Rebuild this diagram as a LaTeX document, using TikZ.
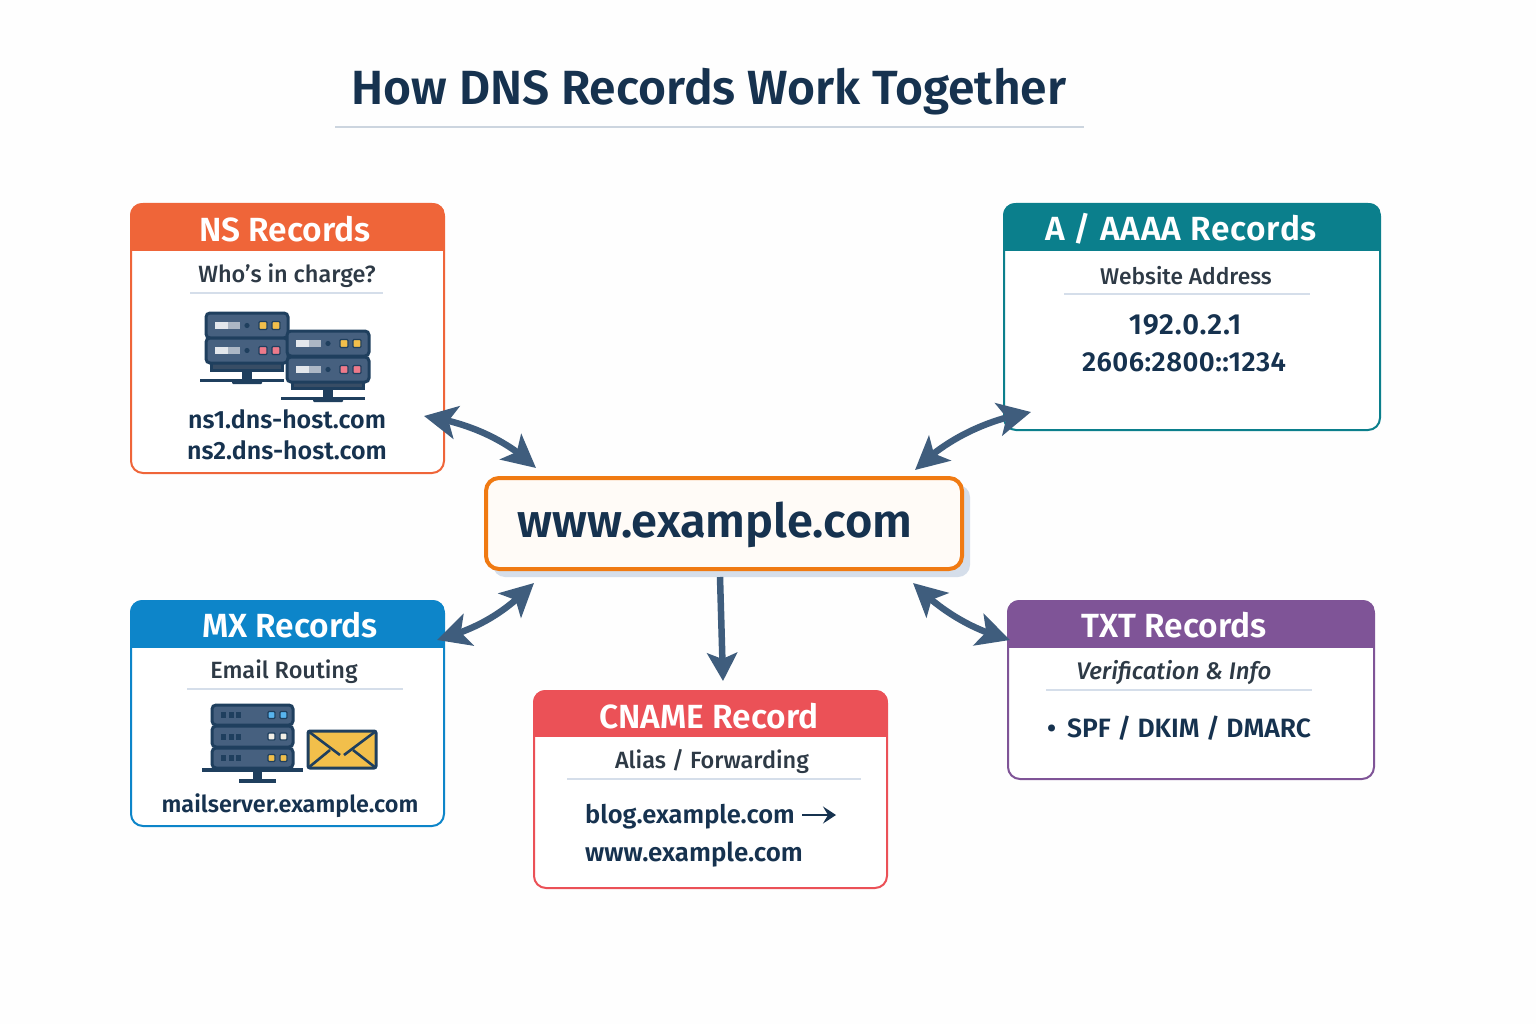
\documentclass[tikz,border=0pt]{standalone}
\usepackage{fontspec}
\setmainfont{Fira Sans}
\newfontfamily\medf{Fira Sans Medium}
\newfontfamily\semif{Fira Sans SemiBold}
\newfontfamily\medit{Fira Sans Medium Italic}
\usetikzlibrary{arrows.meta,bending}
\definecolor{ink}{HTML}{16324F}
\definecolor{gray1}{HTML}{2E3A46}
\definecolor{rulec}{HTML}{D5DEEA}
\definecolor{arrowc}{HTML}{3F5D7D}
\definecolor{srvfill}{HTML}{46607F}
\definecolor{srvdark}{HTML}{1F3F5E}
\definecolor{nsc}{HTML}{EF6539}
\definecolor{ac}{HTML}{0B7F8C}
\definecolor{mxc}{HTML}{0D85C9}
\definecolor{cnc}{HTML}{EB5157}
\definecolor{txc}{HTML}{7F5497}
\definecolor{orangec}{HTML}{F07A12}
\definecolor{ledy}{HTML}{F2BF4B}
\definecolor{ledr}{HTML}{EE7A8A}
\definecolor{ledb}{HTML}{58B4EE}
\definecolor{ledw}{HTML}{F3EFE6}
\tikzset{
  cardbox/.style={draw=#1,line width=2pt,rounded corners=12pt,fill=white,inner sep=0pt,outer sep=0pt,anchor=north west},
  headtext/.style={text=white,font=\semif\fontsize{33.5}{36}\selectfont,inner sep=0pt},
  subtext/.style={text=gray1,font=\medf\fontsize{23.5}{26}\selectfont,inner sep=0pt},
  bodytext/.style={text=ink,font=\semif\fontsize{25}{28}\selectfont,inner sep=0pt},
  subrule/.style={draw=rulec,line width=1.6pt},
  link/.style={draw=arrowc,line width=6.5pt},
  twoway/.style={link,{Stealth[length=33pt,width=33pt,inset=8pt,flex]}-{Stealth[length=33pt,width=33pt,inset=8pt,flex]}},
  oneway/.style={link,-{Stealth[length=28pt,width=30pt,inset=6pt]}},
  srvbox/.style={draw=srvdark,line width=3pt,fill=srvfill,rounded corners=4pt},
}
\newcommand{\cardshape}[8]{% name x0 y0 x1 y1 ybar color title-x
  \pgfmathsetmacro{\cw}{#4-#2}\pgfmathsetmacro{\ch}{#5-#3}
  \node[cardbox=#7,minimum width=\cw pt,minimum height=\ch pt] (#1) at (#2,#3) {};
  \begin{scope}
    \clip[rounded corners=12pt] (#2-1,#3-1) rectangle (#4+1,#5+1);
    \fill[#7] (#2-1,#3-1) rectangle (#4+1,#6);
  \end{scope}
}
% rack unit: x y w h led1 led2
\newcommand{\rackunit}[6]{%
  \path[srvbox] (#1,#2) rectangle ++(#3,#4);
  \fill[white!85!srvfill] (#1+9,#2+#4/2-4) rectangle ++(13,7);
  \fill[white!55!srvfill] (#1+22,#2+#4/2-4) rectangle ++(12,7);
  \fill[srvdark] (#1+41,#2+#4/2) circle (2.6pt);
  \path[draw=srvdark,line width=1.2pt,fill=#5,rounded corners=1pt] (#1+#3-29,#2+#4/2-4) rectangle ++(8,8);
  \path[draw=srvdark,line width=1.2pt,fill=#6,rounded corners=1pt] (#1+#3-16,#2+#4/2-4) rectangle ++(8,8);
}
% small rack unit for mail server: x y w h led1 led2
\newcommand{\mailunit}[6]{%
  \path[srvbox] (#1,#2) rectangle ++(#3,#4);
  \foreach \k in {0,1,2} {\fill[srvdark] (#1+9+\k*7.5,#2+#4/2-3) rectangle ++(5,6);}
  \path[draw=srvdark,line width=1.2pt,fill=#5,rounded corners=1pt] (#1+#3-25,#2+#4/2-3.5) rectangle ++(7,7);
  \path[draw=srvdark,line width=1.2pt,fill=#6,rounded corners=1pt] (#1+#3-13,#2+#4/2-3.5) rectangle ++(7,7);
}
% double server with stand: x y
\newcommand{\nsserver}[2]{%
  \fill[srvdark] (#1+4,#2+44) rectangle ++(74,16);
  \fill[srvfill!80!black] (#1+7,#2+50) rectangle ++(68,7);
  \fill[srvdark] (#1+36,#2+58) rectangle ++(10,10);
  \draw[srvdark,line width=3pt] (#1-6,#2+68) -- ++(84,0);
  \fill[srvdark,rounded corners=1pt] (#1+26,#2+68) rectangle ++(30,4);
}
\begin{document}
\begin{tikzpicture}[x=1pt,y=-1pt]
\useasboundingbox (0,0) rectangle (1536,1024);
\fill[white!99!gray] (0,0) rectangle (1536,1024);
% title
\node[text=ink,font=\semif\fontsize{48}{50}\selectfont,inner sep=0pt] (title) at (709,92) {How DNS Records Work Together};
\draw[draw=rulec!90!gray,line width=2pt] (335,127) -- (1084,127);
% NS
\cardshape{ns}{131}{204}{444}{473}{251}{nsc}{}
\node[headtext] (nshead) at (285,229) {NS Records};
\node[subtext] (nssub) at (287,276) {Who’s in charge?};
\draw[subrule] (190,293) -- (383,293);
\nsserver{206}{312}
\rackunit{206}{313}{82}{25}{ledy}{ledy}
\rackunit{206}{338}{82}{25}{ledr}{ledr}
\nsserver{287}{330}
\rackunit{287}{331}{82}{25}{ledy}{ledy}
\rackunit{287}{357}{82}{25}{ledr}{ledr}
\node[bodytext] (nsone) at (287,419) {ns1.dns-host.com};
\node[bodytext] (nstwo) at (287,450) {ns2.dns-host.com};
% A
\cardshape{aa}{1004}{204}{1380}{430}{251}{ac}{}
\node[headtext,font=\semif\fontsize{33.5}{36}\selectfont\addfontfeatures{LetterSpace=2.5}] (aahead) at (1181,229) {A / AAAA Records};
\node[subtext,font=\medf\fontsize{22.8}{26}\selectfont] (aasub) at (1186,276) {Website Address};
\draw[subrule] (1064,294) -- (1310,294);
\node[bodytext,font=\semif\fontsize{29}{30}\selectfont\addfontfeatures{LetterSpace=3}] (aaone) at (1185,325) {192.0.2.1};
\node[bodytext,font=\semif\fontsize{27.5}{30}\selectfont\addfontfeatures{LetterSpace=1.8}] (aatwo) at (1184,362) {2606:2800::1234};
% MX
\cardshape{mx}{131}{601}{444}{826}{648}{mxc}{}
\node[headtext] (mxhead) at (290,625) {MX Records};
\node[subtext] (mxsub) at (284,672) {Email Routing};
\draw[subrule] (187,689) -- (403,689);
\fill[srvdark] (253,768) rectangle (262,781);
\draw[srvdark,line width=3.5pt] (202,770) -- (303,770);
\draw[srvdark,line width=3.5pt] (239,781) -- (276,781);
\mailunit{212}{705}{81}{20}{ledb}{ledb}
\mailunit{212}{726}{81}{21}{ledw}{ledw}
\mailunit{212}{748}{81}{20}{ledy}{ledy}
\node[draw=srvdark,line width=3pt,fill=ledy,rounded corners=2pt,minimum width=68pt,minimum height=37pt,inner sep=0pt,outer sep=0pt] (env) at (342,749.5) {};
\draw[srvdark,line width=2.6pt] (env.north west) -- (340,755) (env.north east) -- (344,755);
\draw[srvdark,line width=2.6pt] (env.south west) -- (330,750) (env.south east) -- (353,750);
\node[bodytext,font=\semif\fontsize{23.4}{26}\selectfont] (mxname) at (290,806) {mailserver.example.com};
% CNAME
\cardshape{cn}{534}{691}{887}{888}{737}{cnc}{}
\node[headtext] (cnhead) at (709,716) {CNAME Record};
\node[subtext] (cnsub) at (712,762) {Alias / Forwarding};
\draw[subrule] (567,779) -- (861,779);
\node[bodytext,anchor=west,font=\semif\fontsize{25.5}{28}\selectfont] (cnone) at (585,817) {blog.example.com};
\coordinate (cnarrowa) at (802,815);
\coordinate (cnarrowb) at (836,815);
\draw[ink,line width=2.6pt,-{Stealth[length=13pt,width=17pt,inset=5pt]}] (cnarrowa) -- (cnarrowb);
\node[bodytext,anchor=west,font=\semif\fontsize{25.9}{28}\selectfont] (cntwo) at (585,855) {www.example.com};
% TXT
\cardshape{tx}{1008}{601}{1374}{779}{648}{txc}{}
\node[headtext] (txhead) at (1174,625) {TXT Records};
\node[subtext,font=\medit\fontsize{24}{26}\selectfont] (txsub) at (1174,673) {Verification \& Info};
\draw[subrule] (1046,690) -- (1312,690);
\node[bodytext,anchor=west,font=\semif\fontsize{26.5}{28}\selectfont] (txone) at (1047,728) {• \,SPF / DKIM / DMARC};
% centre
\fill[rulec,rounded corners=12pt] (493,485) rectangle (970,577);
\node[draw=orangec,line width=4pt,fill=white!97!orange,rounded corners=13pt,minimum width=476pt,minimum height=91pt,inner sep=0pt,outer sep=0pt] (site) at (724,523.5) {};
\node[text=ink,font=\semif\fontsize{47}{50}\selectfont,inner sep=0pt] (sitename) at (715,525) {www.example.com};
% connectors
\draw[twoway] ([shift={(-20,-57)}]ns.south east) .. controls (465,422) and (505,438) .. ([shift={(50,-10)}]site.north west);
\draw[twoway] ([shift={(27,208)}]aa.north west) .. controls (985,420) and (945,440) .. ([shift={(-47,-8)}]site.north east);
\draw[twoway] ([shift={(-7,39)}]mx.north east) .. controls (480,628) and (505,612) .. ([shift={(48,14)}]site.south west);
\draw[twoway] ([shift={(2,39)}]tx.north west) .. controls (965,628) and (935,605) .. ([shift={(-49,14)}]site.south east);
\draw[oneway] ([shift={(-4,8)}]site.south) -- ([shift={(189,-10)}]cn.north west);
\end{tikzpicture}
\end{document}
